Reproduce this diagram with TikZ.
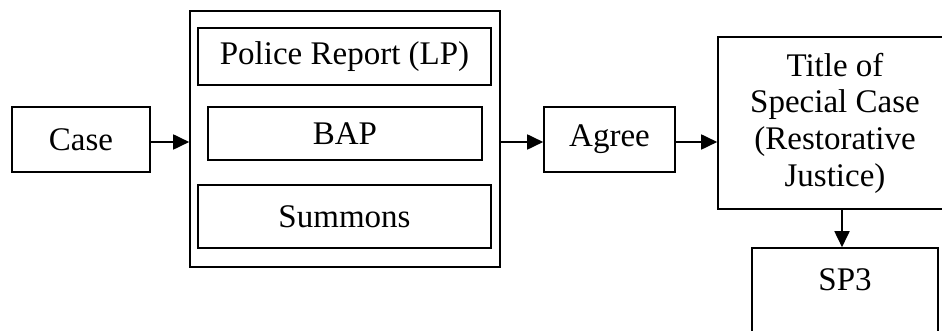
\documentclass[tikz,border=0pt]{standalone}
\usepackage{fontspec}
\setmainfont{Liberation Serif}
\usetikzlibrary{arrows.meta}

\begin{document}
\begin{tikzpicture}[
	x=0.5pt, y=-0.5pt,
	every node/.style = {
		shape=rectangle, draw, line width=0.8pt,
		align=center, inner sep=0pt,
		font=\fontsize{16.5}{18.3}\selectfont},
	flow/.style = {-{Triangle[length=8pt,width=7.5pt]}, line width=0.9pt}]
	\useasboundingbox (0,0) rectangle (942,331);
	\node[minimum width=69pt, minimum height=32.5pt] (case) at (81,139.5) {Case};
	\node[minimum width=155pt, minimum height=128pt] (docs) at (345,139) {};
	\node[minimum width=146.5pt, minimum height=28.5pt] (lp) at (344.5,56.5) {Police Report (LP)};
	\node[minimum width=137pt, minimum height=26.5pt] (bap) at (345,133.5) {BAP};
	\node[minimum width=146.5pt, minimum height=31.5pt] (summons) at (344.5,216.5) {Summons};
	\node[minimum width=65.5pt, minimum height=32.5pt] (agree) at (609.5,139.5) {Agree};
	\node[minimum width=117pt, minimum height=86pt] (title) at (835,123)
		{Title of\\Special Case\\(Restorative\\Justice)};
	\node[minimum width=93pt, minimum height=50pt] (sp3) at (845,298) {SP3\\~};
	\draw[flow] (case.east |- 0,142) -- (docs.west |- 0,142);
	\draw[flow] (docs.east |- 0,142) -- (agree.west |- 0,142);
	\draw[flow] (agree.east |- 0,142) -- (title.west |- 0,142);
	\draw[flow] (title.south -| 842,0) -- (sp3.north -| 842,0);
\end{tikzpicture}
\end{document}
